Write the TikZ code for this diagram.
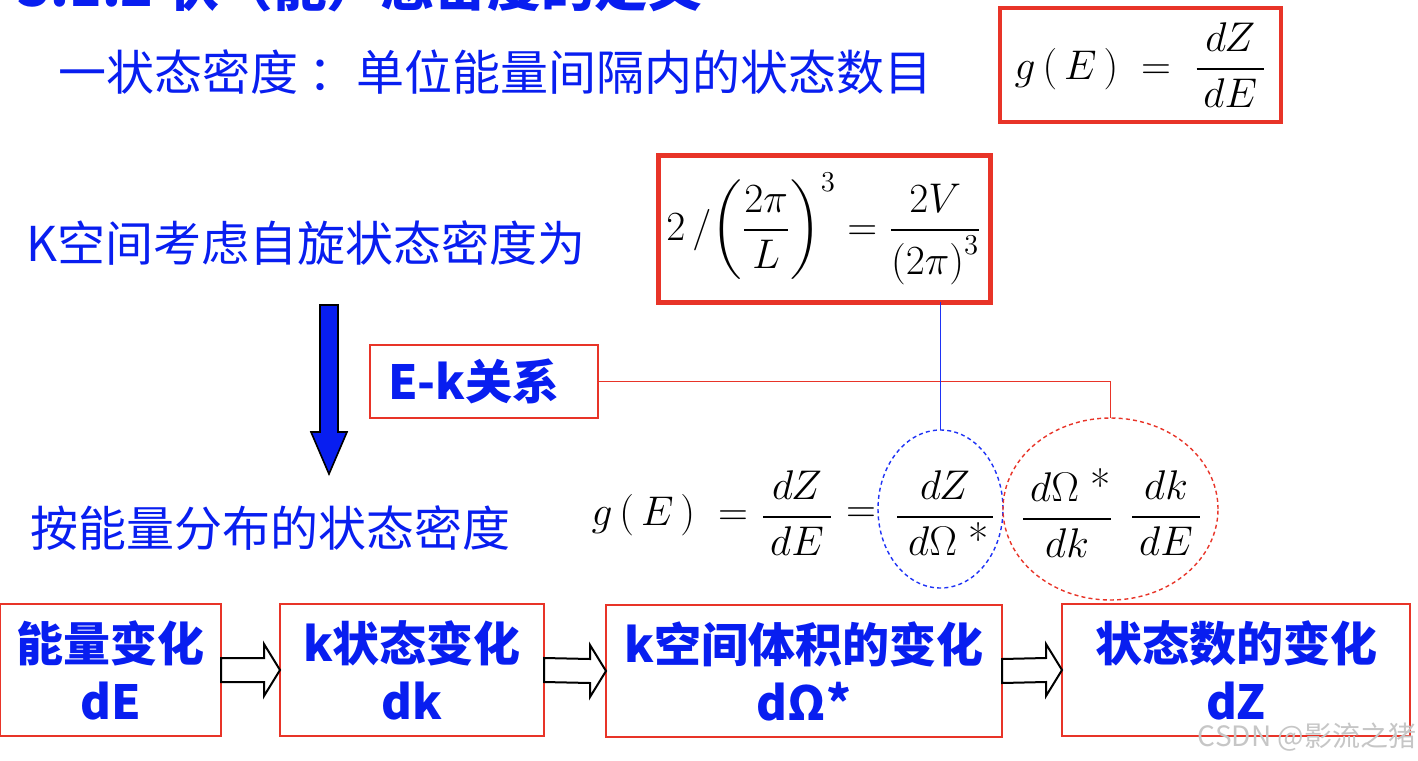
\documentclass[tikz,border=0pt]{standalone}
\usepackage{amsmath}
\usepackage{fontspec}
\newfontfamily\cjk{Noto Sans CJK SC}
\usetikzlibrary{shapes.geometric,calc}
\definecolor{txtblue}{RGB}{8,30,240}
\definecolor{boxred}{RGB}{232,52,40}
\definecolor{linkblue}{RGB}{30,50,245}

\begin{document}
\begin{tikzpicture}[
x=0.5pt, y=-0.5pt,
every node/.style={inner sep=0pt, outer sep=0pt},
bluetext/.style={text=txtblue, font=\cjk\fontsize{24}{28}\selectfont},
boldtext/.style={text=txtblue, font=\cjk\bfseries\fontsize{23.5}{29}\selectfont, align=center},
mathtext/.style={font=\fontsize{22}{26}\selectfont},
mathbox/.style={draw=boxred, line width=2.2pt, fill=white, font=\fontsize{22}{26}\selectfont},
stepbox/.style={draw=boxred, line width=1pt, minimum height=66pt, boldtext},
ring/.style={ellipse, dashed, dash pattern=on 2pt off 1.6pt, line width=0.7pt},
hollowarr/.style={draw=black, line width=1pt, fill=white},
]
\useasboundingbox (0,0) rectangle (1418,760);

\node[text=txtblue, font=\cjk\bfseries\fontsize{26.8}{32}\selectfont, anchor=base west] (title) at (18,6) {3.1.2 状（能）态密度的定义};
\node[bluetext, anchor=west] (defn) at (58,72) {一状态密度 ：单位能量间隔内的状态数目};
\node[mathbox, minimum width=140.5pt, minimum height=57pt] (gbox) at (1140.5,65)
{$\displaystyle g\,(\,E\,)\;=\;\frac{\,dZ\,}{\,dE\,}$};

\node[mathbox, line width=2.5pt, minimum width=166pt, minimum height=73.5pt] (gk) at (824,228.5)
{$\displaystyle 2\,/\!\left(\frac{2\pi}{L}\right)^{3}=\frac{2V}{\left(2\pi\right)^{3}}$};

\node[bluetext, anchor=west] (kspin) at (26,243) {K空间考虑自旋状态密度为};
\node[stepbox, minimum width=114pt, minimum height=36.5pt] (ek) at (484,381.5) {E-k关系\hspace*{10pt}};
\node[bluetext, anchor=west] (bydist) at (31,528) {按能量分布的状态密度};

\coordinate (arrtop) at (329,305);
\coordinate (arrtip) at (329,474);
\draw[fill=txtblue, line width=0.8pt] ($(arrtop)+(-9,0)$) -- ($(arrtop)+(9,0)$) -- ($(arrtip)+(9,-42)$)
  -- ($(arrtip)+(18,-42)$) -- (arrtip) -- ($(arrtip)+(-18,-42)$) -- ($(arrtip)+(-9,-42)$) -- cycle;

\node[mathtext, anchor=east] (gE) at (748,515) {$g\,(\,E\,)\;=$};
\node[mathtext] (fracA) at (797,513) {$\displaystyle\frac{\,dZ\,}{\,dE\,}$};
\node[mathtext] (eqB) at (861,515) {$=$};
\node[mathtext] (fracB) at (945,513) {$\displaystyle\frac{\;\;dZ\;\;}{\,d\Omega\;\mbox{*}}$};
\node[mathtext] (fracC) at (1067,513) {$\displaystyle\frac{\,d\Omega\;\mbox{*}}{dk}$};
\node[mathtext] (fracD) at (1166,513) {$\displaystyle\frac{\,dk\,}{\,dE\,}$};

\node[ring, draw=linkblue, minimum width=62.5pt, minimum height=79pt] (ellB) at (940.5,509) {};
\node[ring, draw=boxred, minimum width=107.5pt, minimum height=91pt] (ellR) at (1110.5,509) {};
\draw[boxred, line width=0.8pt] (ek.east) -| (ellR.north);
\draw[linkblue, line width=0.8pt] (ellB.north |- gk.south) -- (ellB.north);

\node[stepbox, minimum width=110.5pt] (eA) at (110.5,670) {能量变化\\dE};
\node[stepbox, minimum width=132pt] (eB) at (412,670) {k状态变化\\dk};
\node[stepbox, minimum width=198pt] (eC) at (804,671) {k空间体积的变化\\dΩ*};
\node[stepbox, minimum width=174pt] (eD) at (1236,670) {状态数的变化\\dZ};

\foreach \a/\b in {eA/eB, eB/eC, eC/eD}
  \draw[hollowarr] ($(\a.east)+(0,-12)$) -- ($(\b.west)+(-16,-12)$) -- ($(\b.west)+(-16,-26)$) -- (\b.west)
    -- ($(\b.west)+(-16,26)$) -- ($(\b.west)+(-16,12)$) -- ($(\a.east)+(0,12)$) -- cycle;

\node[anchor=east, text=gray!45, font=\cjk\fontsize{14}{16}\selectfont] (mark) at (1416,737) {CSDN @影流之猪};
\end{tikzpicture}
\end{document}
